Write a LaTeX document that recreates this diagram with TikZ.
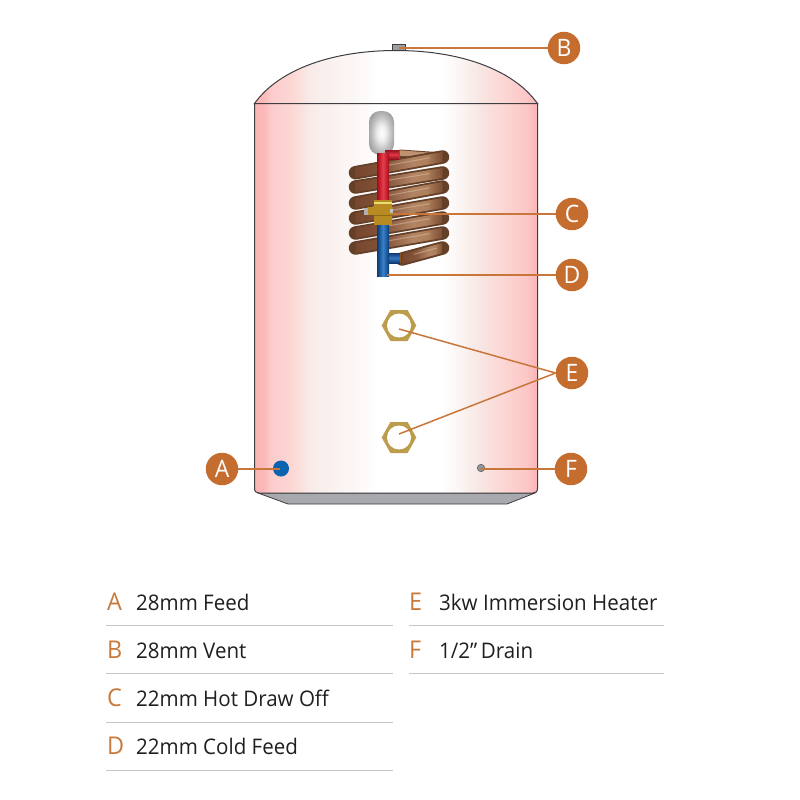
\documentclass[tikz,border=0pt]{standalone}
\usepackage{fontspec}
\setmainfont[FakeStretch=0.955]{Open Sans}
\usetikzlibrary{calc}
\definecolor{badge}{HTML}{C46D2E}
\definecolor{leader}{HTML}{C8763A}
\definecolor{legendletter}{HTML}{C8793A}
\definecolor{rulegrey}{HTML}{C6C6C6}
\definecolor{outline}{HTML}{3E3E42}
\definecolor{tray}{HTML}{A7A9AC}
\definecolor{coildark}{HTML}{654029}
\definecolor{coiltan}{HTML}{BE9270}
\definecolor{coillight}{HTML}{E2C8AE}
\definecolor{brass}{HTML}{B78A22}
\definecolor{brassd}{HTML}{8F6A16}
\definecolor{portblue}{HTML}{0B62AE}
% stops: the path's box maps onto 25bp..75bp
\pgfdeclarehorizontalshading{tankshade}{100bp}{
 rgb(0bp)=(.984,.706,.706); rgb(25bp)=(.984,.706,.706); rgb(26.5bp)=(.984,.72,.72); rgb(28bp)=(.988,.80,.80); rgb(32bp)=(.988,.85,.84);
 rgb(35bp)=(.973,.925,.918); rgb(42bp)=(.984,.965,.957); rgb(47bp)=(1,1,1); rgb(58bp)=(1,1,1);
 rgb(61bp)=(.984,.965,.957); rgb(65bp)=(.973,.90,.89); rgb(69bp)=(.988,.84,.83); rgb(73bp)=(.988,.78,.78); rgb(75bp)=(.984,.706,.706); rgb(100bp)=(.984,.706,.706)}
\pgfdeclarehorizontalshading{coilshade}{100bp}{
 rgb(0bp)=(.46,.28,.18); rgb(25bp)=(.46,.28,.18); rgb(42bp)=(.52,.33,.23); rgb(58bp)=(.7,.52,.39); rgb(66bp)=(.68,.5,.36); rgb(75bp)=(.48,.3,.2); rgb(100bp)=(.48,.3,.2)}
\pgfdeclarehorizontalshading{redpipe}{100bp}{
 rgb(0bp)=(.58,.07,.12); rgb(25bp)=(.58,.07,.12); rgb(36bp)=(.8,.12,.18); rgb(50bp)=(.88,.25,.3); rgb(64bp)=(.8,.12,.18); rgb(75bp)=(.58,.07,.12); rgb(100bp)=(.58,.07,.12)}
\pgfdeclarehorizontalshading{bluepipe}{100bp}{
 rgb(0bp)=(.07,.22,.45); rgb(25bp)=(.07,.22,.45); rgb(36bp)=(.1,.36,.62); rgb(50bp)=(.24,.5,.78); rgb(64bp)=(.1,.36,.62); rgb(75bp)=(.07,.22,.45); rgb(100bp)=(.07,.22,.45)}
\pgfdeclareverticalshading{redbranch}{100bp}{
 rgb(0bp)=(.58,.07,.12); rgb(25bp)=(.58,.07,.12); rgb(50bp)=(.88,.22,.27); rgb(75bp)=(.58,.07,.12); rgb(100bp)=(.58,.07,.12)}
\pgfdeclareverticalshading{bluebranch}{100bp}{
 rgb(0bp)=(.07,.22,.45); rgb(25bp)=(.07,.22,.45); rgb(50bp)=(.2,.47,.76); rgb(75bp)=(.07,.22,.45); rgb(100bp)=(.07,.22,.45)}
\pgfdeclareradialshading{vesselshade}{\pgfpointorigin}{
 rgb(0bp)=(1,1,1); rgb(9bp)=(.93,.93,.93); rgb(20bp)=(.74,.74,.74); rgb(30bp)=(.6,.6,.6); rgb(50bp)=(.55,.55,.55)}
\pgfdeclareradialshading{nutshade}{\pgfpointorigin}{
 rgb(0bp)=(.72,.6,.28); rgb(30bp)=(.74,.62,.3); rgb(50bp)=(.6,.46,.13)}
\newcommand{\coiltube}[4]{%
 \draw[coildark,line width=13.5pt,line cap=round] (#1,#2) -- (#3,#4);
 \shade[shading=coilshade] (#1,#2-5) -- (#3,#4-5) -- (#3,#4+5) -- (#1,#2+5) -- cycle;
 \draw[coillight,opacity=.45,line width=1.1pt,line cap=round] ($(#1,#2)!.3!(#3,#4)+(0,-1.5)$) -- ($(#1,#2)!.85!(#3,#4)+(0,-1.5)$);
}
\newcommand{\hexnut}[3]{%
 \shade[shading=nutshade] (#1-17.3,#2) -- (#1-8.6,#2-15.5) -- (#1+8.6,#2-15.5) -- (#1+17.3,#2) -- (#1+8.6,#2+15.5) -- (#1-8.6,#2+15.5) -- cycle;
 \node[nuthole] (#3) at (#1,#2) {};
}
\tikzset{
 badgenode/.style={circle,fill=badge,minimum size=32.5pt,inner sep=0pt,text=white,font=\fontsize{24}{24}\selectfont},
 leaderline/.style={leader,line width=1.5pt},
 legendkey/.style={anchor=base west,inner sep=0pt,text=legendletter,font=\fontsize{24.5}{26}\selectfont},
 legendtext/.style={anchor=base west,inner sep=0pt,text=black!88,font=\fontsize{21.5}{26}\selectfont},
 legendrule/.style={rulegrey,line width=1pt},
 nuthole/.style={circle,fill=white,minimum size=24pt,inner sep=0pt},
}
\begin{document}
\begin{tikzpicture}[x=1pt,y=-1pt]
\useasboundingbox (0,0) rectangle (800,800);
% tray
\fill[tray,draw=outline,line width=.8pt] (258,493) -- (288,504) -- (507,504) -- (535,493) -- cycle;
% dome
\shade[shading=tankshade] (254.5,103.5) .. controls (280,68) and (335,50.5) .. (396,50.5) .. controls (457,50.5) and (512,68) .. (537.5,103.5) -- cycle;
\draw[outline,line width=1pt] (254.5,103.5) .. controls (280,68) and (335,50.5) .. (396,50.5) .. controls (457,50.5) and (512,68) .. (537.5,103.5) -- cycle;
% shell
\shade[shading=tankshade] (254.5,103.5) -- (254.5,488) .. controls (254.5,491.5) and (256,493) .. (259,493) -- (533,493) .. controls (536,493) and (537.5,491.5) .. (537.5,488) -- (537.5,103.5) -- cycle;
\draw[outline,line width=1pt] (254.5,103.5) -- (254.5,488) .. controls (254.5,491.5) and (256,493) .. (259,493) -- (533,493) .. controls (536,493) and (537.5,491.5) .. (537.5,488) -- (537.5,103.5) -- cycle;
% vent
\node[draw=outline,fill=black!38,line width=.7pt,minimum width=13.5pt,minimum height=6pt,inner sep=0pt] (vent) at (399,47) {};
% coil
\draw[coildark,line width=9pt,line cap=round] (400,154) -- (443,157);
\draw[coiltan,line width=5.5pt] (400,153) -- (443,156.5);
\coiltube{355.5}{172.7}{442.5}{157}
\coiltube{355.5}{187}{442.5}{173}
\coiltube{355.5}{203}{442.5}{187}
\coiltube{355.5}{218}{442.5}{203}
\coiltube{355.5}{233}{442.5}{218}
\coiltube{355.5}{248}{442.5}{233}
\coiltube{402}{259}{442.5}{248}
% vessel
\shade[shading=vesselshade,rounded corners=11pt] (369,111) rectangle (394,155);
% red pipe
\shade[shading=redbranch] (385,150) rectangle (399,159);
\fill[coildark!70!orange] (398.5,150) rectangle (399.8,159);
\shade[shading=redpipe] (377,153) rectangle (389,201);
% blue pipe
\shade[shading=bluebranch] (385,253) rectangle (400,263);
\fill[coildark!70!orange] (399.5,253) rectangle (400.8,263);
\shade[shading=bluepipe] (377,224) rectangle (389,276);
% brass fitting
\fill[black!30] (363.5,208) rectangle (369,215);
\fill[brass] (373.5,200) rectangle (392,206.5);
\fill[brassd] (373.5,206.5) rectangle (392,216);
\fill[brass] (368,207) rectangle (393,215);
\fill[brass] (373.5,216) rectangle (392,225);
\fill[brass!50!yellow!60!white] (373.5,202) rectangle (392,203.5);
\fill[black!25] (390,209) rectangle (393,213);
% nuts
\hexnut{399}{325.5}{nuttop}
\hexnut{399}{437.5}{nutbottom}
% ports
\node[circle,fill=portblue,minimum size=16pt,inner sep=0pt] (feed) at (281,468.5) {};
\node[circle,fill=black!42,draw=black!60,line width=.6pt,minimum size=7.5pt,inner sep=0pt] (drain) at (481,468) {};
% badges
\node[badgenode] (A) at (222,469) {A};
\node[badgenode] (B) at (564,48) {B};
\node[badgenode] (C) at (572,214) {C};
\node[badgenode] (D) at (572,275) {D};
\node[badgenode] (E) at (572,373) {E};
\node[badgenode] (F) at (571,469) {F};
% connector end points
\coordinate (bend) at (399,48);
\coordinate (cend) at (393,214);
\coordinate (dend) at (387,275);
\coordinate (e1end) at (399,329);
\coordinate (e2end) at (399,434);
\coordinate (aend) at (280,469);
\coordinate (fend) at (481,469);
\draw[leaderline] (B.west |- bend) -- (bend);
\draw[leaderline] (C.west |- cend) -- (cend);
\draw[leaderline] (D.west |- dend) -- (dend);
\draw[leaderline] (E.west) -- (e1end);
\draw[leaderline] (E.west) -- (e2end);
\draw[leaderline] (A.east) -- (aend);
\draw[leaderline] (F.west) -- (fend);
% legend
\foreach \k/\t/\y in {A/28mm Feed/610,B/28mm Vent/658,C/22mm Hot Draw Off/706,D/22mm Cold Feed/754}{
 \node[legendkey] (key\k) at (107,\y) {\k};
 \node[legendtext] (txt\k) at (136,\y) {\t};
}
\foreach \k/\t/\y in {E/3kw Immersion Heater/610,F/1\slash 2”\,Drain/658}{
 \node[legendkey] (key\k) at (409,\y) {\k};
 \node[legendtext] (txt\k) at (439,\y) {\t};
}
\foreach \y in {625.5,673,722,770}{\draw[legendrule] (106,\y) -- (392.5,\y);}
\foreach \y in {625.5,673}{\draw[legendrule] (409,\y) -- (664,\y);}
\end{tikzpicture}
\end{document}
